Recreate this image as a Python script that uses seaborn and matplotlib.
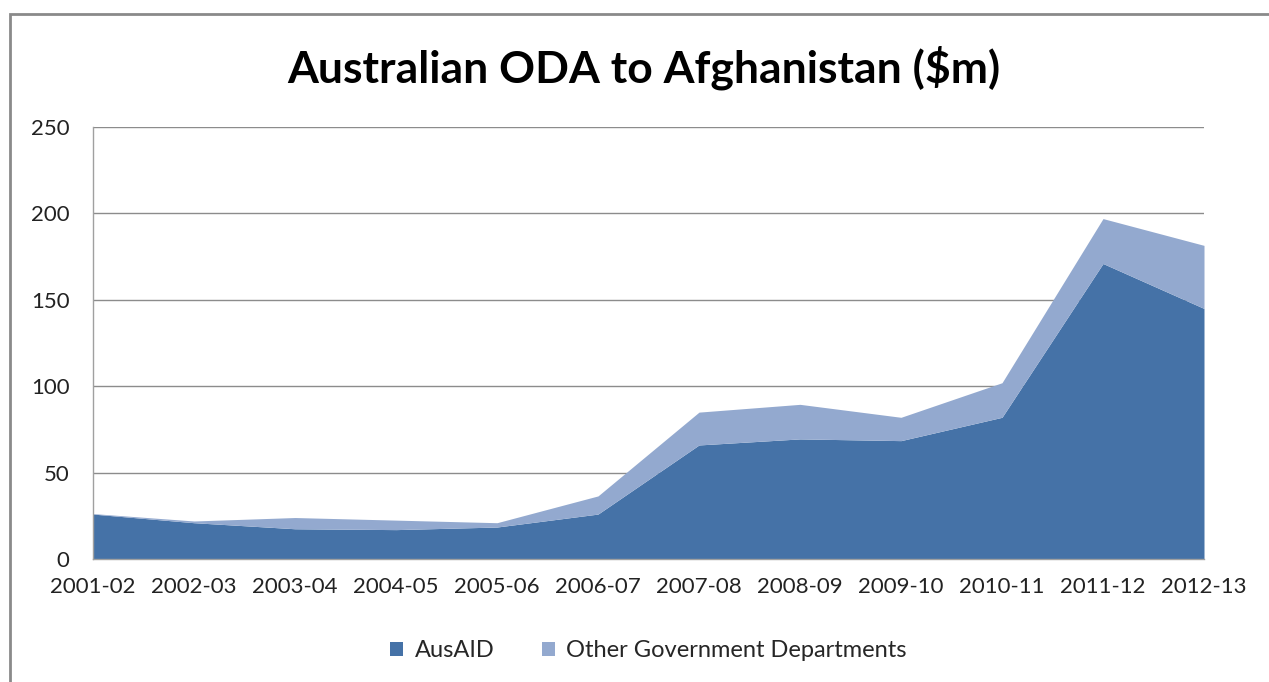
import matplotlib
matplotlib.use("Agg")
import matplotlib.pyplot as plt
from matplotlib.patches import Patch, Rectangle
import seaborn as sns

# values ($m)
years = ["2001-02", "2002-03", "2003-04", "2004-05", "2005-06", "2006-07",
         "2007-08", "2008-09", "2009-10", "2010-11", "2011-12", "2012-13"]
ausaid = [26, 21, 17.5, 17, 18.5, 26, 66, 69.5, 68.5, 82, 171, 145]
other_depts = [0.3, 1, 6.5, 5.5, 2.5, 10.5, 19, 20, 13.5, 20, 26, 36.5]
series_names = ["AusAID", "Other Government Departments"]
y_ticks = [0, 50, 100, 150, 200, 250]

colors = ["#4572A7", "#93A9CF"]

sns.set_style("white")
plt.rcParams["font.family"] = ["Lato", "DejaVu Sans"]

fig = plt.figure(figsize=(12.69, 6.82), dpi=100)
ax = fig.add_axes([93 / 1269, 1 - 559 / 682, (1204 - 93) / 1269, (559 - 127) / 682])

x = list(range(len(years)))
ax.stackplot(x, ausaid, other_depts, colors=colors, linewidth=0)

ax.set_xlim(0, len(years) - 1)
ax.set_ylim(0, 250)
ax.set_yticks(y_ticks)
ax.set_xticks(x)
ax.set_xticklabels(years)
ax.tick_params(axis="both", labelsize=16, length=0, colors="#222222")
ax.tick_params(axis="x", pad=13)
ax.tick_params(axis="y", pad=17)
ax.yaxis.grid(True, color="#8c8c8c", linewidth=1)
ax.set_axisbelow(True)
for side in ["right", "top"]:
    ax.spines[side].set_visible(False)
for side in ["left", "bottom"]:
    ax.spines[side].set_color("#a0a0a0")
    ax.spines[side].set_linewidth(1)

fig.text(0.507, 0.9, "Australian ODA to Afghanistan ($m)", ha="center", va="center",
         fontsize=32, fontweight="bold", color="black")

handles = [Patch(facecolor=c, edgecolor="none") for c in colors]
fig.legend(handles, series_names, loc="center", bbox_to_anchor=(0.511, 0.046),
           ncol=2, frameon=False, fontsize=17, handlelength=0.55, handleheight=0.55,
           handletextpad=0.5, columnspacing=2.0)

# chart border like the spreadsheet chart frame
fig.patches.append(Rectangle((10 / 1269, -0.05), 1.2, 1 - 14 / 682 + 0.05,
                             transform=fig.transFigure, fill=False,
                             edgecolor="#8a8a8a", linewidth=2))

fig.savefig("out.png", dpi=100)
plt.close(fig)
